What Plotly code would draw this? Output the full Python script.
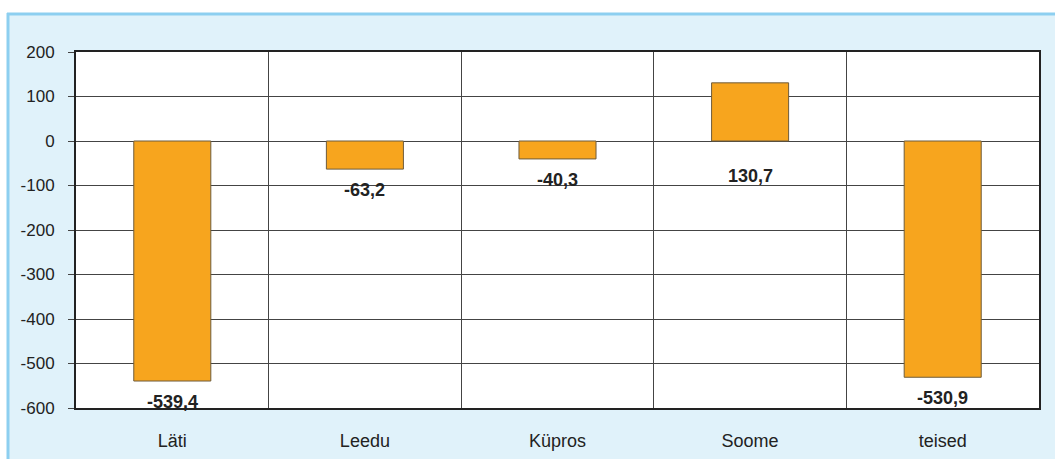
import plotly.graph_objects as go

categories = ["Läti", "Leedu", "Küpros", "Soome", "teised"]
values = [-539.4, -63.2, -40.3, 130.7, -530.9]
labels = ["-539,4", "-63,2", "-40,3", "130,7", "-530,9"]
y_ticks = [200, 100, 0, -100, -200, -300, -400, -500, -600]
y_ticktext = ["200", "100", "0", "-100", "-200", "-300", "-400", "-500", "-600"]

W, H = 1055, 459
L, R, T, B = 76, 16, 52, 51
pw, ph = W - L - R, H - T - B
FONT = "Liberation Sans, Arial, sans-serif"

fig = go.Figure()
fig.add_trace(go.Bar(
    x=categories, y=values, width=0.4,
    marker=dict(color="#F7A51E", line=dict(color="#6e5c3c", width=1)),
    hoverinfo="skip", showlegend=False,
))

for c, v, t in zip(categories, values, labels):
    fig.add_annotation(
        x=c, y=min(v, 0), text=f"<b>{t}</b>", showarrow=False,
        yanchor="middle", yshift=-21 if v < 0 else -35,
        font=dict(family=FONT, size=18, color="#222"),
    )

# background panel
fig.add_shape(type="rect", xref="paper", yref="paper", layer="below",
              x0=(7 - L) / pw, x1=(W + 10 - L) / pw,
              y0=-(B + 10) / ph, y1=(H - B - 13) / ph,
              fillcolor="#E0F2FA", line=dict(width=0))
fig.add_shape(type="rect", xref="paper", yref="paper", layer="below",
              x0=0, x1=1, y0=0, y1=1, fillcolor="white", line=dict(width=0))
# panel border (top and left)
fig.add_shape(type="line", xref="paper", yref="paper", layer="below",
              x0=(7 - L) / pw, x1=(W + 10 - L) / pw,
              y0=(H - B - 14) / ph, y1=(H - B - 14) / ph,
              line=dict(color="#8DCFF0", width=3))
fig.add_shape(type="line", xref="paper", yref="paper", layer="below",
              x0=(8 - L) / pw, x1=(8 - L) / pw,
              y0=-(B + 10) / ph, y1=(H - B - 13) / ph,
              line=dict(color="#8DCFF0", width=3))

fig.update_layout(
    width=W, height=H,
    margin=dict(l=L, r=R, t=T, b=B, pad=0, autoexpand=False),
    paper_bgcolor="white", plot_bgcolor="white",
    font=dict(family=FONT, size=17, color="#222"),
)
fig.update_xaxes(
    type="category", tickson="boundaries", showgrid=True, gridcolor="#444", gridwidth=1,
    ticks="", ticklabelstandoff=15, automargin=False,
    tickfont=dict(family=FONT, size=18, color="#222"),
    showline=True, linecolor="#222", linewidth=2, mirror=True,
    range=[-0.5, len(categories) - 0.5], fixedrange=True,
)
fig.update_yaxes(
    range=[min(y_ticks), max(y_ticks)], tickvals=y_ticks, ticktext=y_ticktext,
    showgrid=True, gridcolor="#444", gridwidth=1, zeroline=False, automargin=False,
    tickfont=dict(family=FONT, size=17, color="#222"),
    ticks="outside", ticklen=6, tickcolor="#444", ticklabelstandoff=10,
    showline=True, linecolor="#222", linewidth=2, mirror=True, fixedrange=True,
)

fig.write_html("out.html", config={"displayModeBar": False},
               post_script="document.body.style.margin='0';document.body.style.overflow='hidden';")
